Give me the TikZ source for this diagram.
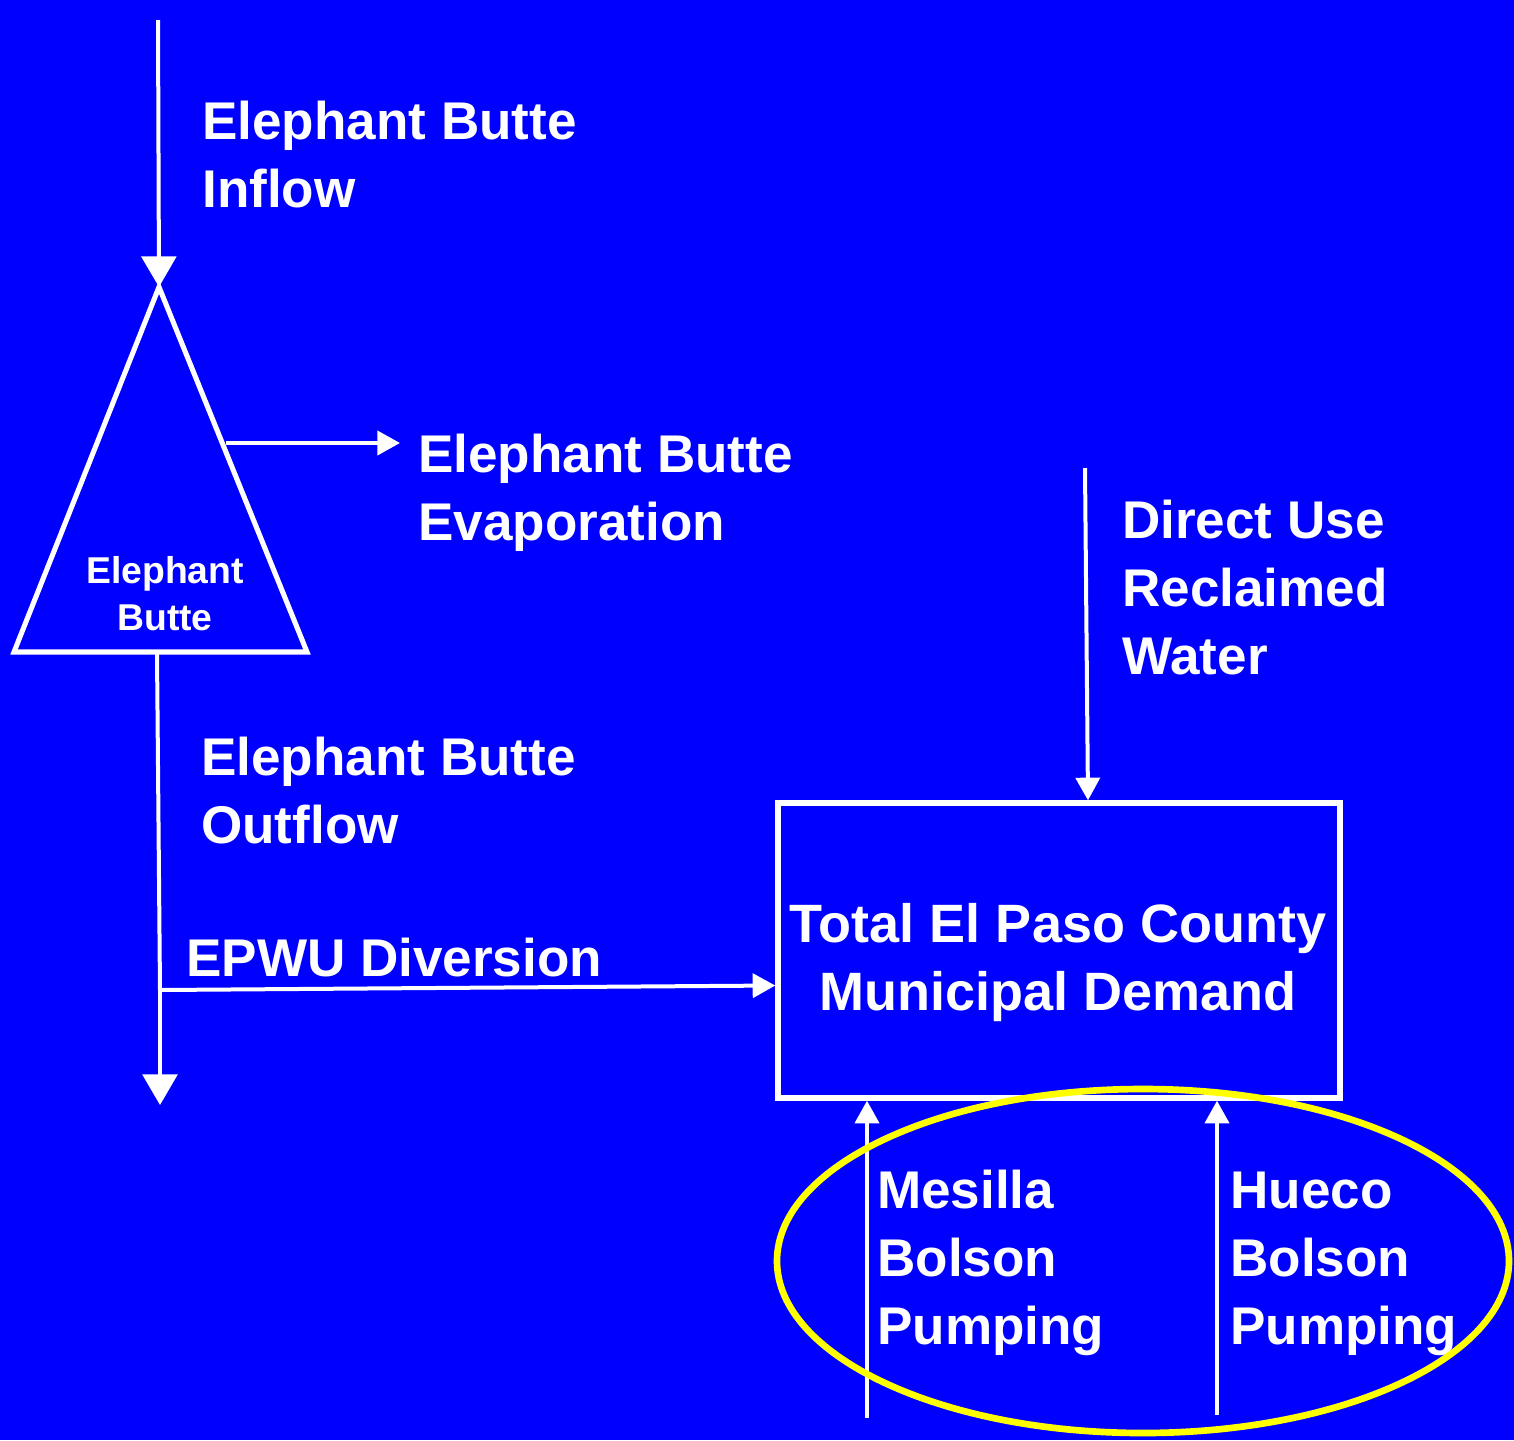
\documentclass[tikz,border=0pt]{standalone}
\usepackage{fontspec}
\setmainfont{Liberation Sans}
\usetikzlibrary{arrows.meta}
\definecolor{bgblue}{RGB}{0,0,255}
\definecolor{ringyellow}{RGB}{255,255,0}
\begin{document}
\begin{tikzpicture}[x=0.75pt,y=-0.75pt,
  lbl/.style={text=white,font=\bfseries\fontsize{39.8}{51}\selectfont,align=left,inner sep=0pt,anchor=base west},
  flow/.style={draw=white,line width=3pt},
  bigtip/.style={-{Triangle[length=23pt,width=26pt]}},
  smalltip/.style={-{Triangle[length=17pt,width=18pt]}}]
\fill[bgblue] (0,0) rectangle (1514,1440);
\useasboundingbox (0,0) rectangle (1514,1440);
% reservoir triangle
\coordinate (apex) at (159,287);
\coordinate (bl) at (14,652);
\coordinate (br) at (307,652);
\draw[white,line width=3.8pt,line join=miter] (apex) -- (br) -- (bl) -- cycle;
\node[text=white,font=\bfseries\fontsize{28}{35}\selectfont,align=center,inner sep=0pt,anchor=base] (res) at (165,630) {Elephant\\Butte};
% inflow
\coordinate (inTop) at (158,20);
\draw[flow,bigtip] (inTop) -- (apex);
\node[lbl] (inflow) at (202,207) {Elephant Butte\\Inflow};
% evaporation
\coordinate (evS) at (226,443);
\coordinate (evE) at (400,443);
\draw[flow,smalltip] (evS) -- (evE);
\node[lbl] (evap) at (418,540) {Elephant Butte\\Evaporation};
% outflow
\coordinate (outS) at (157,654);
\coordinate (divS) at (160,990);
\coordinate (outE) at (160,1105);
\draw[flow] (outS) -- (divS);
\draw[flow,bigtip] (divS) -- (outE);
\node[lbl] (outflow) at (201,843) {Elephant Butte\\Outflow};
\node[lbl] (epwu) at (186,976) {EPWU Diversion};
% demand box
\node[draw=white,line width=4pt,minimum width=421.5pt,minimum height=221.25pt,inner sep=0pt]
      (demand) at (1059,950.5) {};
\node[text=white,font=\bfseries\fontsize{40.5}{51}\selectfont,align=center,inner sep=0pt,anchor=base] (dtext) at (1058,1010) {Total El Paso County\\Municipal Demand};
\coordinate (boxW) at ([yshift=-26.25pt]demand.west);
\coordinate (boxN) at ([xshift=21.75pt]demand.north);
\coordinate (boxS1) at ([xshift=-144pt]demand.south);
\coordinate (boxS2) at ([xshift=118.5pt]demand.south);
\draw[flow,smalltip] (divS) -- (boxW);
% direct use
\coordinate (duTop) at (1085,468);
\draw[flow,smalltip] (duTop) -- (boxN);
\node[lbl] (direct) at (1122,674) {Direct Use\\Reclaimed\\Water};
% pumping
\coordinate (meB) at (867,1418);
\coordinate (huB) at (1217,1415);
\draw[flow,smalltip] (meB) -- (meB |- boxS1);
\draw[flow,smalltip] (huB) -- (huB |- boxS2);
\node[lbl] (mesilla) at (877,1344) {Mesilla\\Bolson\\Pumping};
\node[lbl] (hueco) at (1230,1344) {Hueco\\Bolson\\Pumping};
% highlight ring
\draw[ringyellow,line width=5pt] (1143,1261) ellipse [x radius=366, y radius=172];
\end{tikzpicture}
\end{document}
